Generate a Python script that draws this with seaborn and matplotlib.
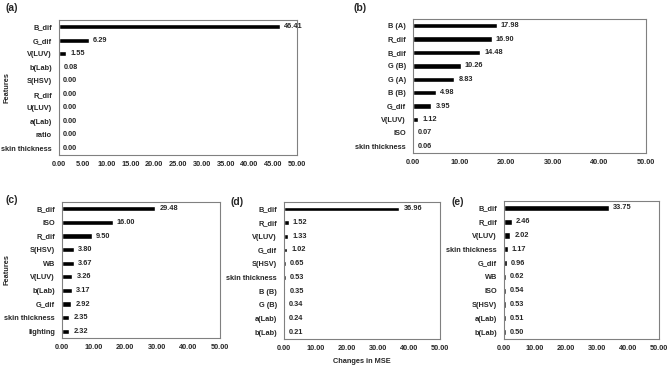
import matplotlib
matplotlib.use('Agg')
import matplotlib.pyplot as plt
import seaborn as sns
import pandas as pd

sns.set_style('white')
plt.rcParams['font.family'] = ['Liberation Sans', 'DejaVu Sans']
plt.rcParams['font.weight'] = 'bold'

# Feature importance (changes in MSE) per panel
a_feats = ['B_dif', 'G_dif', 'V(LUV)', 'b(Lab)', 'S(HSV)', 'R_dif', 'U(LUV)', 'a(Lab)', 'ratio', 'skin thickness']
a_vals = [46.41, 6.29, 1.55, 0.08, 0.00, 0.00, 0.00, 0.00, 0.00, 0.00]

b_feats = ['B (A)', 'R_dif', 'B_dif', 'G (B)', 'G (A)', 'B (B)', 'G_dif', 'V(LUV)', 'ISO', 'skin thickness']
b_vals = [17.98, 16.90, 14.48, 10.26, 8.83, 4.98, 3.95, 1.12, 0.07, 0.06]

c_feats = ['B_dif', 'ISO', 'R_dif', 'S(HSV)', 'WB', 'V(LUV)', 'b(Lab)', 'G_dif', 'skin thickness', 'lighting']
c_vals = [29.48, 16.00, 9.50, 3.80, 3.67, 3.26, 3.17, 2.92, 2.35, 2.32]

d_feats = ['B_dif', 'R_dif', 'V(LUV)', 'G_dif', 'S(HSV)', 'skin thickness', 'B (B)', 'G (B)', 'a(Lab)', 'b(Lab)']
d_vals = [36.96, 1.52, 1.33, 1.02, 0.65, 0.53, 0.35, 0.34, 0.24, 0.21]

e_feats = ['B_dif', 'R_dif', 'V(LUV)', 'skin thickness', 'G_dif', 'WB', 'ISO', 'S(HSV)', 'a(Lab)', 'b(Lab)']
e_vals = [33.75, 2.46, 2.02, 1.17, 0.96, 0.62, 0.54, 0.53, 0.51, 0.50]

W, H = 668, 366
fig = plt.figure(figsize=(W / 100, H / 100), dpi=100)

# panel: (label, feats, vals, box in px [left, top, right, bottom], tick step, bar width, label pos px)
panels = [
    ('(a)', a_feats, a_vals, [59, 20, 297, 155], 5, 0.34, (12, 8)),
    ('(b)', b_feats, b_vals, [413, 19, 646, 153], 10, 0.40, (360, 8)),
    ('(c)', c_feats, c_vals, [62, 202, 220, 338], 10, 0.37, (12, 200)),
    ('(d)', d_feats, d_vals, [284, 202, 440, 339], 10, 0.34, (237, 202)),
    ('(e)', e_feats, e_vals, [504, 201, 659, 339], 10, 0.46, (458, 202)),
]

fs = 5.3
for tag, feats, vals, box, step, bw, lpos in panels:
    l, t, r, b = box
    ax = fig.add_axes([l / W, 1 - b / H, (r - l) / W, (b - t) / H])
    df = pd.DataFrame({'feature': feats, 'value': vals})
    sns.barplot(data=df, x='value', y='feature', color='black', saturation=1,
                width=bw, orient='h', ax=ax)
    ax.set_xlim(0, 50)
    ax.set_ylim(len(feats) - 0.5, -0.5)
    ticks = list(range(0, 51, step))
    ax.set_xticks(ticks)
    ax.set_xticklabels([f'{v:.2f}' for v in ticks], fontsize=fs, fontweight='bold')
    ax.tick_params(axis='both', length=0)
    ax.tick_params(axis='x', pad=4.5)
    ax.tick_params(axis='y', pad=5)
    for lab in ax.get_yticklabels():
        lab.set_fontsize(fs)
        lab.set_fontweight('bold')
    ax.bar_label(ax.containers[0], fmt='%.2f', padding=3, fontsize=fs, fontweight='bold')
    for sp in ax.spines.values():
        sp.set_visible(True)
        sp.set_color('#808080')
        sp.set_linewidth(0.8)
    ax.set_xlabel('')
    ax.set_ylabel('')
    fig.text(lpos[0] / W, 1 - lpos[1] / H, tag, fontsize=7.5, fontweight='bold',
             ha='center', va='center')
    if tag in ('(a)', '(c)'):
        ax.set_ylabel('Features', fontsize=fs, fontweight='bold', va='center')
        ax.yaxis.set_label_coords((7 - l) / (r - l), 0.5)
    if tag == '(d)':
        ax.set_xlabel('Changes in MSE', fontsize=fs, fontweight='bold', labelpad=4)

fig.savefig('out.png', dpi=100)
